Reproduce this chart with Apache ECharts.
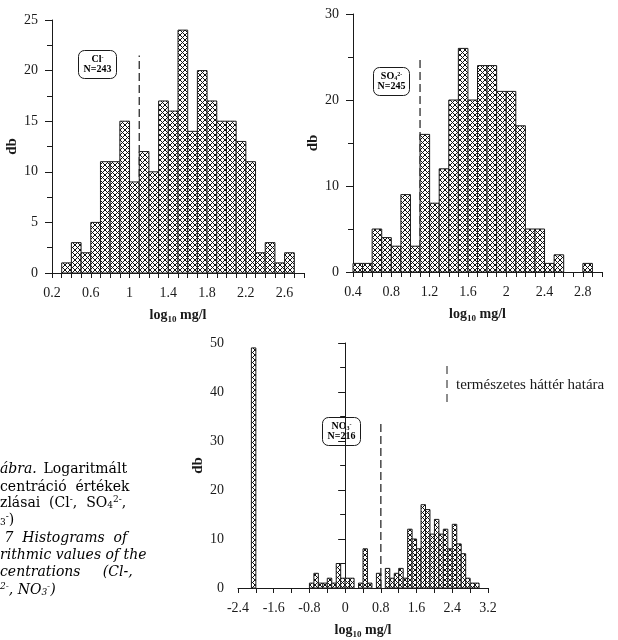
<!DOCTYPE html>
<html>
<head>
<meta charset="utf-8">
<script src="https://cdn.jsdelivr.net/npm/echarts@6/dist/echarts.min.js"></script>
<style>
  html, body { margin: 0; padding: 0; background: #fff; }
  #chart { width: 618px; height: 640px; }
</style>
</head>
<body>
<div id="chart"></div>
<script>
// bin width of every histogram (log10 mg/l)
const binWidth = 0.1;

// Cl- histogram
const clBins = [0.3, 0.4, 0.5, 0.6, 0.7, 0.8, 0.9, 1.0, 1.1, 1.2, 1.3, 1.4,
  1.5, 1.6, 1.7, 1.8, 1.9, 2.0, 2.1, 2.2, 2.3, 2.4, 2.5, 2.6];
const clCounts = [1, 3, 2, 5, 11, 11, 15, 9, 12, 10, 17, 16,
  24, 14, 20, 17, 15, 15, 13, 11, 2, 3, 1, 2];
const clLabels = ["0.2", "0.6", "1", "1.4", "1.8", "2.2", "2.6"];
const clLimit = [1.1, 21.5]; // x, top of dashed line

// SO4 2- histogram
const soBins = [0.4, 0.5, 0.6, 0.7, 0.8, 0.9, 1.0, 1.1, 1.2, 1.3, 1.4, 1.5, 1.6,
  1.7, 1.8, 1.9, 2.0, 2.1, 2.2, 2.3, 2.4, 2.5, 2.6, 2.7, 2.8];
const soCounts = [1, 1, 5, 4, 3, 9, 3, 16, 8, 12, 20, 26, 20,
  24, 24, 21, 21, 17, 5, 5, 1, 2, 0, 0, 1];
const soLabels = ["0.4", "0.8", "1.2", "1.6", "2", "2.4", "2.8"];
const soLimit = [1.1, 25];

// NO3- histogram
const noBins = [-2.1, -0.8, -0.7, -0.6, -0.5, -0.4, -0.3, -0.2, -0.1, 0.0, 0.1, 0.2,
  0.3, 0.4, 0.5, 0.6, 0.7, 0.8, 0.9, 1.0, 1.1, 1.2, 1.3, 1.4, 1.5, 1.6, 1.7,
  1.8, 1.9, 2.0, 2.1, 2.2, 2.3, 2.4, 2.5, 2.6, 2.7, 2.8, 2.9];
const noCounts = [49, 1, 3, 1, 1, 2, 1, 5, 2, 2, 2, 0,
  1, 8, 1, 0, 3, 0, 4, 2, 3, 4, 2, 12, 10, 8, 17,
  16, 11, 14, 11, 12, 8, 13, 9, 7, 2, 1, 1];
const noLabels = ["-2.4", "-1.6", "-0.8", "0", "0.8", "1.6", "2.4", "3.2"];
const noLimit = [0.8, 34];

const serif = "Liberation Serif";
const capFont = "DejaVu Serif";
const ink = "#1a1a1a";

function makeHatch() {
  const s = 5;
  const c = document.createElement("canvas");
  c.width = s;
  c.height = s;
  const g = c.getContext("2d");
  g.fillStyle = "#fff";
  g.fillRect(0, 0, s, s);
  g.strokeStyle = "#111";
  g.lineWidth = 1;
  g.beginPath();
  g.moveTo(0, 0); g.lineTo(s, s);
  g.moveTo(s, 0); g.lineTo(0, s);
  g.stroke();
  return c;
}
const hatch = { image: makeHatch(), repeat: "repeat" };

function histData(bins, counts) {
  return bins.map((b, i) => [b, b + binWidth, counts[i]]);
}

function histItem(params, api) {
  const c = api.value(2);
  if (!c) return null;
  const p0 = api.coord([api.value(0), c]);
  const p1 = api.coord([api.value(1), 0]);
  return {
    type: "rect",
    shape: { x: p0[0], y: p0[1], width: p1[0] - p0[0], height: p1[1] - p0[1] },
    style: { fill: hatch, stroke: ink, lineWidth: 1 }
  };
}

function labelFilter(list) {
  return function(v) {
    const s = String(Number(v.toFixed(2)));
    return list.indexOf(s) >= 0 ? s : "";
  };
}

const axisName = "{a|log}{s|10}{a| mg/l}";
const nameRich = {
  a: { fontFamily: serif, fontWeight: "bold", fontSize: 14, color: ink, lineHeight: 18 },
  s: { fontFamily: serif, fontWeight: "bold", fontSize: 9, color: ink, verticalAlign: "bottom", lineHeight: 18, padding: [7, 0, 0, 0] }
};

function xAxis(idx, min, max, interval, labels) {
  return {
    type: "value", gridIndex: idx, min: min, max: max, interval: interval,
    name: axisName, nameLocation: "middle", nameGap: 33,
    nameTextStyle: { rich: nameRich },
    axisLine: { lineStyle: { color: ink, width: 1 } },
    axisTick: { show: true, inside: false, length: 5, lineStyle: { color: ink } },
    axisLabel: { fontFamily: serif, fontSize: 14, color: ink, margin: 13, formatter: labelFilter(labels) },
    splitLine: { show: false }
  };
}

function yAxis(idx, max, interval, gap) {
  return {
    type: "value", gridIndex: idx, min: 0, max: max, interval: interval,
    name: "db", nameLocation: "middle", nameGap: gap, nameRotate: 90,
    nameTextStyle: { fontFamily: serif, fontWeight: "bold", fontSize: 15, color: ink },
    axisLine: { show: true, lineStyle: { color: ink, width: 1 } },
    axisTick: { show: true, length: 7, lineStyle: { color: ink } },
    minorTick: { show: true, splitNumber: 2, length: 5, lineStyle: { color: ink } },
    axisLabel: { fontFamily: serif, fontSize: 14, color: ink, margin: 14 },
    splitLine: { show: false }
  };
}

function limitLine(idx, lim) {
  return {
    type: "line", xAxisIndex: idx, yAxisIndex: idx, symbol: "none", silent: true,
    data: [[lim[0], 0], [lim[0], lim[1]]],
    lineStyle: { color: ink, width: 1.2, type: [8, 4] }, z: 1
  };
}

function hist(idx, bins, counts) {
  return {
    type: "custom", xAxisIndex: idx, yAxisIndex: idx, silent: true,
    renderItem: histItem, encode: { x: [0, 1], y: 2 },
    data: histData(bins, counts), z: 2
  };
}

const boxRich = {
  b: { fontFamily: serif, fontWeight: "bold", fontSize: 10, color: ink },
  p: { fontFamily: serif, fontWeight: "bold", fontSize: 6, color: ink, padding: [0, 0, 5, 0] },
  d: { fontFamily: serif, fontWeight: "bold", fontSize: 6, color: ink, padding: [4, 0, 0, 0] }
};

function labelBox(x, y, w, h, ion, n) {
  return {
    type: "group", left: x, top: y,
    children: [
      { type: "rect", shape: { x: 0, y: 0, width: w, height: h, r: 6 },
        style: { fill: "#fff", stroke: ink, lineWidth: 1 } },
      { type: "text", x: w / 2, y: 9,
        style: { text: ion, rich: boxRich, align: "center", verticalAlign: "middle" } },
      { type: "text", x: w / 2, y: 19,
        style: { text: "{b|" + n + "}", rich: boxRich, align: "center", verticalAlign: "middle" } }
    ]
  };
}

const capRich = {
  r: { fontFamily: capFont, fontSize: 14, color: ink },
  i: { fontFamily: capFont, fontSize: 14, fontStyle: "italic", color: ink },
  sp: { fontFamily: capFont, fontSize: 9, color: ink, padding: [0, 0, 7, 0] },
  sb: { fontFamily: capFont, fontSize: 9, color: ink, padding: [6, 0, 0, 0] },
  isp: { fontFamily: capFont, fontSize: 9, fontStyle: "italic", color: ink, padding: [0, 0, 7, 0] },
  isb: { fontFamily: capFont, fontSize: 9, fontStyle: "italic", color: ink, padding: [6, 0, 0, 0] }
};

const captionLines = [
  "{i|ábra.}  {r|Logaritmált}",
  "{r|centráció  értékek}",
  "{r|zlásai  (Cl}{sp|-}{r|,  SO}{sb|4}{sp|2-}{r|,}",
  "{sb|3}{sp|-}{r|)}",
  "{i| 7  Histograms  of}",
  "{i|rithmic values of the}",
  "{i|centrations     (Cl-,}",
  "{isp|2-}{i|, NO}{isb|3}{isp|-}{i|)}"
];
const captionY = [469, 487, 503, 520, 538, 555, 572, 590];

const chart = echarts.init(document.getElementById("chart"), null, { renderer: "canvas" });

const option = {
  backgroundColor: "#fff",
  animation: false,
  grid: [
    { left: 52, top: 20, width: 252, height: 253 },
    { left: 353, top: 14, width: 249, height: 258 },
    { left: 238, top: 343, width: 250, height: 250 }
  ],
  xAxis: [
    xAxis(0, 0.2, 2.8, 0.1, clLabels),
    xAxis(1, 0.4, 3.0, 0.1, soLabels),
    xAxis(2, -2.4, 3.2, 0.4, noLabels)
  ],
  yAxis: [
    yAxis(0, 25, 5, 25),
    yAxis(1, 30, 10, 32),
    yAxis(2, 50, 10, 32)
  ],
  series: [
    limitLine(0, clLimit), hist(0, clBins, clCounts),
    limitLine(1, soLimit), hist(1, soBins, soCounts),
    limitLine(2, noLimit), hist(2, noBins, noCounts)
  ],
  graphic: [
    labelBox(78, 50, 38, 28, "{b|Cl}{p|-}", "N=243"),
    labelBox(373, 67, 36, 28, "{b|SO}{d|4}{p|2-}", "N=245"),
    labelBox(322, 417, 38, 28, "{b|NO}{d|3}{p|-}", "N=216"),
    { type: "line", shape: { x1: 447, y1: 366, x2: 447, y2: 407 },
      style: { stroke: ink, lineWidth: 1, lineDash: [8, 6] } },
    { type: "text", left: 456, top: 378,
      style: { text: "természetes háttér határa", fontFamily: serif, fontSize: 15, fill: ink } }
  ].concat(captionLines.map((t, i) => ({
    type: "text", x: 0, y: captionY[i],
    style: { text: t, rich: capRich, verticalAlign: "middle" }
  })))
};

chart.setOption(option);
</script>
</body>
</html>
